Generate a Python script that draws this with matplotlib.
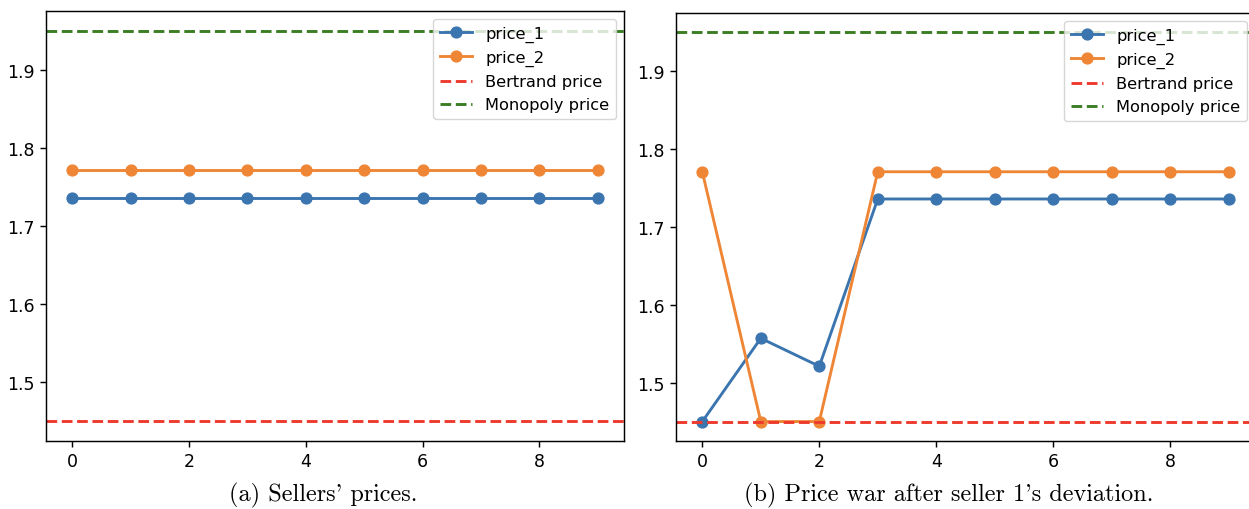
import matplotlib
matplotlib.use("Agg")
import matplotlib.pyplot as plt

steps = list(range(10))
# panel (a): stable prices
a_price_1 = [1.736] * 10
a_price_2 = [1.771] * 10
# panel (b): after seller 1 deviates
b_price_1 = [1.45, 1.557, 1.521, 1.736, 1.736, 1.736, 1.736, 1.736, 1.736, 1.736]
b_price_2 = [1.771, 1.45, 1.45, 1.771, 1.771, 1.771, 1.771, 1.771, 1.771, 1.771]
bertrand = 1.45
monopoly = 1.95
captions = ["(a) Sellers' prices.", "(b) Price war after seller 1's deviation."]

blue = "#3b75af"
orange = "#ef8636"
red = "#ee3a2d"
green = "#3a7d23"
s = 1.3

plt.rcParams["font.size"] = 12

fig = plt.figure(figsize=(12.49, 5.10), dpi=100)
ax1 = fig.add_axes([46 / 1249, 68 / 510, 578 / 1249, 430 / 510])
ax2 = fig.add_axes([676 / 1249, 68 / 510, 579 / 1249, 428 / 510])

for ax, p1, p2, cap, cx in [(ax1, a_price_1, a_price_2, captions[0], 323),
                            (ax2, b_price_1, b_price_2, captions[1], 949)]:
    ax.plot(steps, p1, "-o", color=blue, lw=1.6 * s, ms=6 * s, label="price_1")
    ax.plot(steps, p2, "-o", color=orange, lw=1.6 * s, ms=6 * s, label="price_2")
    ax.axhline(bertrand, color=red, ls="--", lw=1.6 * s, label="Bertrand price")
    ax.axhline(monopoly, color=green, ls="--", lw=1.6 * s, label="Monopoly price")
    ax.set_xticks([0, 2, 4, 6, 8])
    ax.set_yticks([1.5, 1.6, 1.7, 1.8, 1.9])
    ax.tick_params(labelsize=12.5, length=3.5 * s, width=0.8 * s)
    for sp in ax.spines.values():
        sp.set_linewidth(0.8 * s)
    ax.legend(loc="upper right", fontsize=11.7)
    fig.text(cx / 1249, 1.5 / 510, cap, ha="center", va="bottom",
             family="cmr10", fontsize=17.5)

fig.savefig("out.png", dpi=100)
